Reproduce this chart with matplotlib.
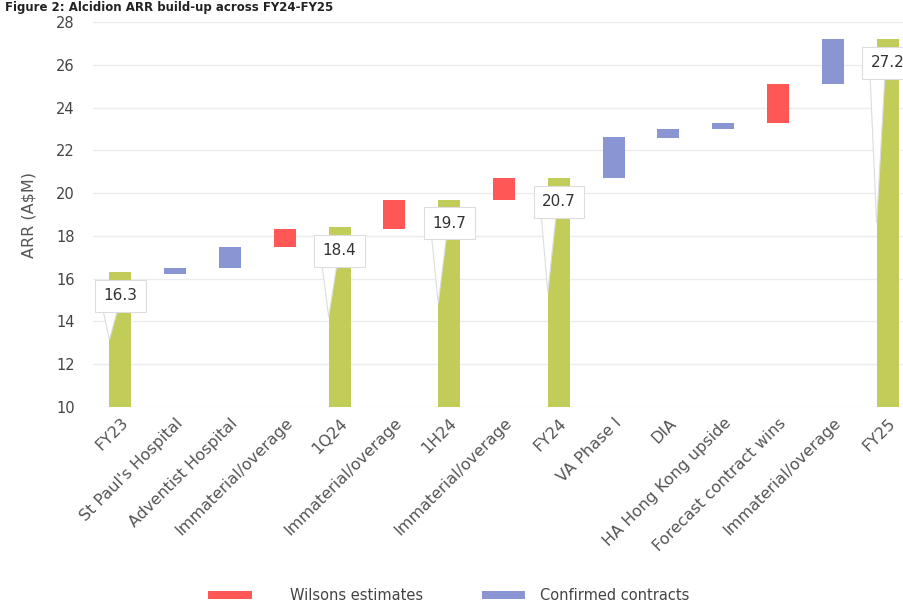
import matplotlib
matplotlib.use("Agg")
import matplotlib.pyplot as plt
from matplotlib.patches import Polygon, Rectangle

categories = ["FY23", "St Paul's Hospital", "Adventist Hospital", "Immaterial/overage",
              "1Q24", "Immaterial/overage", "1H24", "Immaterial/overage", "FY24",
              "VA Phase I", "DIA", "HA Hong Kong upside", "Forecast contract wins",
              "Immaterial/overage", "FY25"]
bar_bottom = [10, 16.2, 16.5, 17.5, 10, 18.3, 10, 19.7, 10, 20.7, 22.6, 23.0, 23.3, 25.1, 10]
bar_top = [16.3, 16.5, 17.5, 18.3, 18.4, 19.7, 19.7, 20.7, 20.7, 22.6, 23.0, 23.3, 25.1, 27.2, 27.2]
kind = ["total", "confirmed", "confirmed", "wilsons", "total", "wilsons", "total", "wilsons",
        "total", "confirmed", "confirmed", "confirmed", "wilsons", "confirmed", "total"]
legend_labels = ["Wilsons estimates", "Confirmed contracts"]
yticks = [10, 12, 14, 16, 18, 20, 22, 24, 26, 28]

colors = {"total": "#c2cc58", "wilsons": "#ff5656", "confirmed": "#8a95d3"}

plt.rcParams['font.family'] = ['DejaVu Sans']
fig = plt.figure(figsize=(9.04, 6.03), dpi=100)
W, H = 904, 603
ax = fig.add_axes([93 / W, 196 / H, 822 / W, 385 / H])

x = list(range(len(categories)))
heights = [t - b for t, b in zip(bar_top, bar_bottom)]
ax.bar(x, heights, bottom=bar_bottom, width=0.4,
       color=[colors[k] for k in kind], zorder=2, linewidth=0)

ax.set_xlim(-0.5, len(categories) - 0.5)
ax.set_ylim(10, 28)
ax.set_yticks(yticks)
ax.set_yticklabels([str(t) for t in yticks], fontsize=10.5, color="#444444")
ax.grid(axis="y", color="#ececec", linewidth=1, zorder=0)
ax.set_axisbelow(True)
for s in ax.spines.values():
    s.set_visible(False)
ax.tick_params(axis="y", length=0, pad=13)
ax.tick_params(axis="x", length=0, pad=6)
ax.set_xticks(x)
ax.set_xticklabels(categories, rotation=45, ha="right", rotation_mode="anchor",
                   fontsize=11.5, color="#555555")
ax.set_ylabel("ARR (A$M)", fontsize=11.5, color="#555555", labelpad=14)

# callout labels for totals
for i, k in enumerate(kind):
    if k != "total":
        continue
    v = bar_top[i]
    cy = v - 1.1
    tip = (bar_bottom[i] + v) / 2
    tail = Polygon([[i - 0.32, cy - 0.65], [i - 0.05, cy - 0.65], [i - 0.2, tip]],
                   closed=True, facecolor="white", edgecolor="#dddddd", linewidth=0.8, zorder=3)
    ax.add_patch(tail)
    ax.text(i, cy, f"{v:.1f}", ha="center", va="center", fontsize=11, color="#333333",
            zorder=4, bbox=dict(boxstyle="square,pad=0.55", facecolor="white",
                                edgecolor="#dddddd", linewidth=0.8))

# legend
leg = [(208, 252, 290, colors["wilsons"], legend_labels[0]),
       (482, 525, 540, colors["confirmed"], legend_labels[1])]
for x0, x1, tx, c, lab in leg:
    fig.add_artist(Rectangle((x0 / W, 1 - 599 / H), (x1 - x0) / W, 8 / H,
                             transform=fig.transFigure, facecolor=c, edgecolor="none"))
    fig.text(tx / W, 1 - 595 / H, lab, ha="left", va="center", fontsize=10.5, color="#444444")

fig.text(5 / W, 1 - 11 / H, "Figure 2: Alcidion ARR build-up across FY24-FY25",
         ha="left", va="baseline", fontsize=8.5, fontweight="bold", color="#222222")

fig.savefig("out.png", dpi=100)
